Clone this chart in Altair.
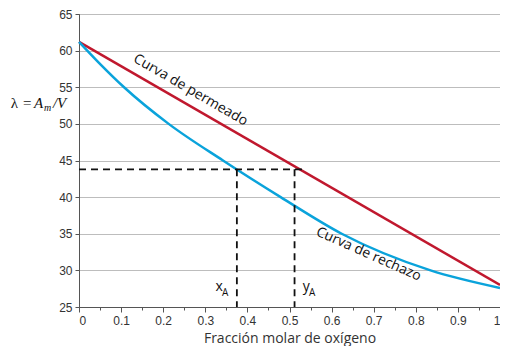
import altair as alt
import pandas as pd

# Data
red_x = [0.0, 1.0]
red_y = [61.2, 28.0]
blue_x = [0.0, 0.048, 0.107, 0.213, 0.342, 0.479, 0.624, 0.835, 1.0]
blue_y = [61.2, 58.3, 55.0, 50.0, 45.0, 40.0, 35.0, 30.0, 27.6]
x_A = 0.375
y_A = 0.512
lam_level = 43.8
y_min = 25

red_df = pd.DataFrame({"x": red_x, "y": red_y})
blue_df = pd.DataFrame({"x": blue_x, "y": blue_y})

xs = alt.Scale(domain=[0, 1], nice=False, zero=False)
ys = alt.Scale(domain=[25, 65], nice=False, zero=False)

x_ticks = [round(i * 0.05, 2) for i in range(21)]
y_ticks = [25, 30, 35, 40, 45, 50, 55, 60, 65]

x_axis = alt.Axis(
    values=x_ticks, format="~g", labelOverlap=False,
    labelExpr="round(datum.value*20) % 2 == 1 ? '' : datum.label",
    tickSize={"condition": {"test": "round(datum.value*20) % 2 == 1", "value": 3}, "value": 5},
    grid=False, domainColor="#555", tickColor="#555", labelColor="#333",
    labelFont="Liberation Sans", labelFontSize=12, labelPadding=3,
    title="Fracción molar de oxígeno", titleFont="Open Sans", titleFontSize=14,
    titleFontWeight="normal", titleColor="#333", titlePadding=5)
y_axis = alt.Axis(
    values=y_ticks, labelOverlap=False,
    grid=True, gridColor="#bdbdbd", domainColor="#555", tickColor="#555",
    labelColor="#333", labelFont="Liberation Sans", labelFontSize=12,
    tickSize=4, labelPadding=3, title=None)

xp = alt.X("x:Q", scale=xs, axis=x_axis)
yp = alt.Y("y:Q", scale=ys, axis=y_axis)

red = alt.Chart(red_df).mark_line(color="#C0182E", strokeWidth=2.5).encode(x=xp, y=yp)
blue = alt.Chart(blue_df).mark_line(color="#0AA3DB", strokeWidth=2.5, interpolate="monotone").encode(
    x=xp, y=yp)

dash_df = pd.DataFrame({
    "x": [0.0, x_A, y_A],
    "x2": [0.535, x_A, y_A],
    "y": [lam_level, lam_level, lam_level],
    "y2": [lam_level, y_min, y_min],
})
dashes = alt.Chart(dash_df).mark_rule(color="#111", strokeWidth=1.8, strokeDash=[7, 5]).encode(
    x=xp, x2="x2:Q", y=yp, y2="y2:Q")

lab_df = pd.DataFrame({
    "x": [0.265, 0.688],
    "y": [54.6, 32.2],
    "t": ["Curva de permeado", "Curva de rechazo"],
    "a": [30, 24],
})
labels = alt.Chart(lab_df).mark_text(font="Open Sans", fontSize=14, color="#111").encode(
    x=xp, y=yp, text="t:N", angle=alt.Angle("a:Q", scale=None))

main_df = pd.DataFrame({"x": [0.333, 0.540], "y": [27.7, 27.7], "t": ["x", "y"]})
sub_df = pd.DataFrame({"x": [0.347, 0.554], "y": [26.9, 26.9], "t": ["A", "A"]})
xa_main = alt.Chart(main_df).mark_text(font="Open Sans", fontSize=14, color="#111").encode(
    x=xp, y=yp, text="t:N")
xa_sub = alt.Chart(sub_df).mark_text(font="Open Sans", fontSize=10, color="#111").encode(
    x=xp, y=yp, text="t:N")

# y-axis title  λ = A_m /V
yt_df = pd.DataFrame({
    "x": [-0.162, -0.133, -0.107, -0.083, -0.062],
    "y": [52.9, 52.9, 52.9, 52.1, 52.9],
    "t": ["λ", "=", "A", "m", "/V"],
    "kind": ["up", "up", "it", "sub", "it"],
})
yt_up = alt.Chart(yt_df[yt_df["kind"] == "up"]).mark_text(
    font="Liberation Serif", fontSize=15, align="left", color="#111").encode(
    x=xp, y=yp, text="t:N")
yt_it = alt.Chart(yt_df[yt_df["kind"] == "it"]).mark_text(
    font="Liberation Serif", fontSize=15, fontStyle="italic", align="left", color="#111").encode(
    x=xp, y=yp, text="t:N")
yt_sub = alt.Chart(yt_df[yt_df["kind"] == "sub"]).mark_text(
    font="Liberation Serif", fontSize=10, fontStyle="italic", align="left", color="#111").encode(
    x=xp, y=yp, text="t:N")

chart = alt.layer(red, blue, dashes, labels, xa_main, xa_sub, yt_up, yt_it, yt_sub).properties(
    width=421, height=293,
    autosize=alt.AutoSizeParams(type="none"),
    padding={"left": 71, "top": 6, "right": 0, "bottom": 39},
).configure_view(stroke="#555", strokeWidth=1)

chart.save("out.html", embed_options={"renderer": "svg", "actions": False})
